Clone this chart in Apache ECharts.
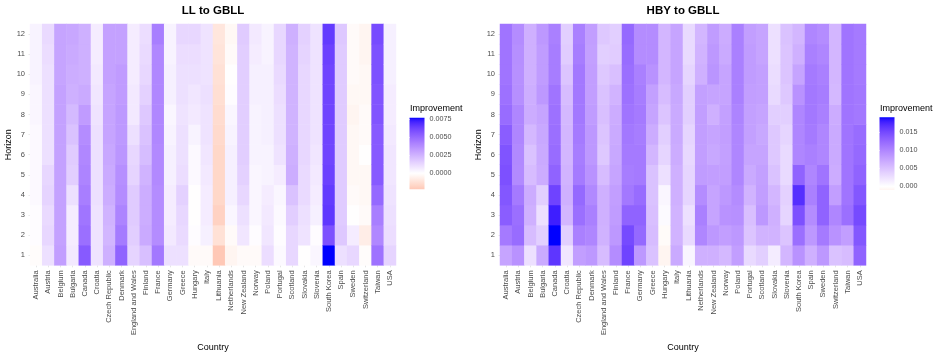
<!DOCTYPE html>
<html>
<head>
<meta charset="utf-8">
<script src="https://cdn.jsdelivr.net/npm/echarts@6/dist/echarts.min.js"></script>
<style>
html, body { margin: 0; background: #fff; }
#main { width: 940px; height: 357px; }
</style>
</head>
<body>
<div id="main"></div>
<script>
var countries = ['Australia', 'Austria', 'Belgium', 'Bulgaria', 'Canada', 'Croatia', 'Czech Republic', 'Denmark',
    'England and Wales', 'Finland', 'France', 'Germany', 'Greece', 'Hungary', 'Italy', 'Lithuania', 'Netherlands',
    'New Zealand', 'Norway', 'Poland', 'Portugal', 'Scotland', 'Slovakia', 'Slovenia', 'South Korea', 'Spain',
    'Sweden', 'Switzerland', 'Taiwan', 'USA'];
var horizons = ['1', '2', '3', '4', '5', '6', '7', '8', '9', '10', '11', '12'];

// one row per country, horizon 1 .. 12
var llValues = [
    [-0.0001, 0.0001, 0.0001, 0.0002, 0.0002, 0.0002, 0.0002, 0.0003, 0.0003, 0.0004, 0.0004, 0.0004],
    [0.0010, 0.0013, 0.0012, 0.0014, 0.0013, 0.0010, 0.0010, 0.0010, 0.0010, 0.0010, 0.0011, 0.0012],
    [0.0032, 0.0031, 0.0031, 0.0031, 0.0031, 0.0031, 0.0031, 0.0031, 0.0031, 0.0030, 0.0030, 0.0030],
    [0.0007, 0.0006, 0.0006, 0.0010, 0.0016, 0.0017, 0.0020, 0.0023, 0.0026, 0.0027, 0.0028, 0.0029],
    [0.0055, 0.0048, 0.0046, 0.0043, 0.0041, 0.0040, 0.0038, 0.0033, 0.0028, 0.0026, 0.0026, 0.0026],
    [0.0009, 0.0009, 0.0009, 0.0010, 0.0010, 0.0010, 0.0010, 0.0009, 0.0008, 0.0007, 0.0006, 0.0006],
    [0.0026, 0.0024, 0.0025, 0.0027, 0.0028, 0.0029, 0.0030, 0.0030, 0.0030, 0.0031, 0.0031, 0.0031],
    [0.0052, 0.0044, 0.0041, 0.0038, 0.0037, 0.0035, 0.0034, 0.0034, 0.0033, 0.0033, 0.0031, 0.0031],
    [0.0014, 0.0016, 0.0017, 0.0017, 0.0014, 0.0013, 0.0010, 0.0007, 0.0007, 0.0006, 0.0006, 0.0006],
    [0.0021, 0.0028, 0.0027, 0.0027, 0.0025, 0.0022, 0.0020, 0.0018, 0.0015, 0.0013, 0.0012, 0.0011],
    [0.0045, 0.0038, 0.0038, 0.0038, 0.0039, 0.0039, 0.0040, 0.0040, 0.0040, 0.0040, 0.0040, 0.0043],
    [0.0010, 0.0007, 0.0006, 0.0006, 0.0005, 0.0005, 0.0004, 0.0003, 0.0005, 0.0005, 0.0004, 0.0004],
    [0.0010, 0.0012, 0.0013, 0.0015, 0.0011, 0.0010, 0.0010, 0.0009, 0.0010, 0.0010, 0.0011, 0.0013],
    [-0.0002, 0.0001, 0.0000, 0.0000, 0.0002, 0.0002, 0.0004, 0.0007, 0.0008, 0.0010, 0.0011, 0.0013],
    [-0.0002, 0.0005, 0.0006, 0.0006, 0.0007, 0.0008, 0.0009, 0.0009, 0.0010, 0.0009, 0.0009, 0.0009],
    [-0.0022, -0.0012, -0.0018, -0.0016, -0.0016, -0.0016, -0.0015, -0.0014, -0.0013, -0.0012, -0.0011, -0.0010],
    [-0.0004, -0.0002, 0.0003, 0.0005, 0.0005, 0.0005, 0.0004, 0.0003, 0.0001, 0.0000, -0.0002, -0.0003],
    [-0.0002, 0.0008, 0.0010, 0.0013, 0.0015, 0.0016, 0.0016, 0.0016, 0.0016, 0.0016, 0.0016, 0.0017],
    [-0.0002, 0.0001, 0.0003, 0.0003, 0.0003, 0.0004, 0.0004, 0.0004, 0.0005, 0.0005, 0.0006, 0.0007],
    [0.0011, 0.0008, 0.0007, 0.0006, 0.0004, 0.0004, 0.0005, 0.0005, 0.0005, 0.0005, 0.0004, 0.0004],
    [0.0002, 0.0001, 0.0002, 0.0003, 0.0006, 0.0009, 0.0010, 0.0010, 0.0011, 0.0012, 0.0013, 0.0013],
    [0.0013, 0.0013, 0.0016, 0.0020, 0.0027, 0.0026, 0.0025, 0.0025, 0.0025, 0.0025, 0.0025, 0.0026],
    [0.0000, 0.0009, 0.0010, 0.0012, 0.0012, 0.0013, 0.0013, 0.0013, 0.0013, 0.0013, 0.0014, 0.0015],
    [0.0003, 0.0001, 0.0005, 0.0006, 0.0007, 0.0008, 0.0009, 0.0009, 0.0009, 0.0009, 0.0009, 0.0009],
    [0.0077, 0.0058, 0.0066, 0.0065, 0.0063, 0.0062, 0.0062, 0.0062, 0.0062, 0.0062, 0.0063, 0.0065],
    [0.0010, 0.0018, 0.0017, 0.0017, 0.0017, 0.0017, 0.0017, 0.0017, 0.0017, 0.0017, 0.0017, 0.0018],
    [0.0013, 0.0006, 0.0000, -0.0002, -0.0003, -0.0003, -0.0003, -0.0004, -0.0003, -0.0002, -0.0002, -0.0002],
    [-0.0001, -0.0007, -0.0002, -0.0003, -0.0003, 0.0000, -0.0002, -0.0002, -0.0003, -0.0003, -0.0004, -0.0004],
    [0.0047, 0.0040, 0.0043, 0.0050, 0.0055, 0.0055, 0.0055, 0.0057, 0.0057, 0.0058, 0.0058, 0.0060],
    [0.0014, 0.0011, 0.0010, 0.0009, 0.0008, 0.0008, 0.0007, 0.0006, 0.0006, 0.0005, 0.0005, 0.0005]
];

var hbyValues = [
    [0.0075, 0.0110, 0.0135, 0.0140, 0.0145, 0.0142, 0.0135, 0.0122, 0.0118, 0.0115, 0.0115, 0.0115],
    [0.0090, 0.0122, 0.0120, 0.0110, 0.0097, 0.0098, 0.0100, 0.0100, 0.0093, 0.0092, 0.0093, 0.0095],
    [0.0025, 0.0055, 0.0065, 0.0068, 0.0055, 0.0050, 0.0058, 0.0068, 0.0067, 0.0065, 0.0065, 0.0065],
    [0.0070, 0.0040, 0.0025, 0.0040, 0.0068, 0.0070, 0.0072, 0.0075, 0.0085, 0.0082, 0.0082, 0.0085],
    [0.0165, 0.0192, 0.0180, 0.0155, 0.0130, 0.0122, 0.0120, 0.0118, 0.0115, 0.0108, 0.0108, 0.0105],
    [0.0020, 0.0040, 0.0060, 0.0065, 0.0062, 0.0060, 0.0060, 0.0058, 0.0055, 0.0048, 0.0042, 0.0040],
    [0.0080, 0.0105, 0.0120, 0.0125, 0.0110, 0.0108, 0.0110, 0.0112, 0.0112, 0.0112, 0.0108, 0.0105],
    [0.0085, 0.0100, 0.0105, 0.0098, 0.0090, 0.0085, 0.0085, 0.0082, 0.0080, 0.0080, 0.0078, 0.0080],
    [0.0055, 0.0063, 0.0065, 0.0065, 0.0055, 0.0045, 0.0048, 0.0052, 0.0050, 0.0045, 0.0040, 0.0045],
    [0.0095, 0.0085, 0.0082, 0.0080, 0.0075, 0.0072, 0.0070, 0.0068, 0.0062, 0.0052, 0.0042, 0.0040],
    [0.0155, 0.0150, 0.0130, 0.0112, 0.0108, 0.0110, 0.0112, 0.0115, 0.0118, 0.0120, 0.0122, 0.0125],
    [0.0085, 0.0125, 0.0130, 0.0122, 0.0110, 0.0110, 0.0108, 0.0110, 0.0108, 0.0105, 0.0095, 0.0095],
    [0.0050, 0.0055, 0.0052, 0.0050, 0.0050, 0.0060, 0.0068, 0.0075, 0.0078, 0.0090, 0.0095, 0.0095],
    [-0.0010, -0.0004, 0.0004, 0.0007, 0.0025, 0.0035, 0.0040, 0.0048, 0.0055, 0.0060, 0.0060, 0.0060],
    [0.0070, 0.0062, 0.0062, 0.0065, 0.0065, 0.0068, 0.0070, 0.0070, 0.0072, 0.0075, 0.0075, 0.0075],
    [0.0008, 0.0030, 0.0025, 0.0035, 0.0035, 0.0032, 0.0035, 0.0040, 0.0040, 0.0035, 0.0030, 0.0030],
    [0.0065, 0.0100, 0.0105, 0.0095, 0.0082, 0.0080, 0.0080, 0.0080, 0.0078, 0.0065, 0.0062, 0.0060],
    [0.0065, 0.0085, 0.0075, 0.0075, 0.0080, 0.0072, 0.0075, 0.0065, 0.0075, 0.0088, 0.0085, 0.0082],
    [0.0058, 0.0080, 0.0090, 0.0085, 0.0080, 0.0078, 0.0080, 0.0078, 0.0075, 0.0075, 0.0070, 0.0068],
    [0.0080, 0.0085, 0.0092, 0.0095, 0.0100, 0.0100, 0.0100, 0.0102, 0.0105, 0.0105, 0.0105, 0.0105],
    [0.0030, 0.0048, 0.0052, 0.0062, 0.0070, 0.0075, 0.0078, 0.0078, 0.0080, 0.0082, 0.0082, 0.0080],
    [0.0040, 0.0062, 0.0085, 0.0080, 0.0078, 0.0075, 0.0072, 0.0075, 0.0078, 0.0078, 0.0075, 0.0075],
    [0.0015, 0.0062, 0.0065, 0.0060, 0.0050, 0.0045, 0.0045, 0.0040, 0.0030, 0.0028, 0.0025, 0.0025],
    [0.0060, 0.0048, 0.0035, 0.0038, 0.0030, 0.0030, 0.0035, 0.0040, 0.0045, 0.0048, 0.0048, 0.0050],
    [0.0090, 0.0120, 0.0145, 0.0170, 0.0130, 0.0100, 0.0100, 0.0100, 0.0090, 0.0075, 0.0065, 0.0060],
    [0.0065, 0.0085, 0.0095, 0.0105, 0.0100, 0.0105, 0.0110, 0.0112, 0.0112, 0.0110, 0.0105, 0.0100],
    [0.0085, 0.0110, 0.0130, 0.0130, 0.0115, 0.0100, 0.0100, 0.0105, 0.0108, 0.0105, 0.0100, 0.0095],
    [0.0050, 0.0090, 0.0100, 0.0080, 0.0068, 0.0070, 0.0070, 0.0068, 0.0058, 0.0060, 0.0060, 0.0060],
    [0.0055, 0.0080, 0.0120, 0.0115, 0.0115, 0.0115, 0.0115, 0.0115, 0.0115, 0.0115, 0.0115, 0.0115],
    [0.0130, 0.0140, 0.0150, 0.0140, 0.0130, 0.0125, 0.0122, 0.0112, 0.0112, 0.0110, 0.0110, 0.0110]
];

var llTicks = [0, 0.0025, 0.005, 0.0075];
var hbyTicks = [0, 0.005, 0.01, 0.015];

var FONT = '"Liberation Sans", Arial, sans-serif';

// white -> blue / white -> red, blended in Lab like ggplot's gradient2
function toLin(c) { c /= 255; return c <= 0.04045 ? c / 12.92 : Math.pow((c + 0.055) / 1.055, 2.4); }
function toSrgb(c) {
    c = c <= 0.0031308 ? 12.92 * c : 1.055 * Math.pow(c, 1 / 2.4) - 0.055;
    return Math.round(Math.max(0, Math.min(1, c)) * 255);
}
function rgb2lab(r, g, b) {
    r = toLin(r); g = toLin(g); b = toLin(b);
    var x = (0.4124 * r + 0.3576 * g + 0.1805 * b) / 0.95047;
    var y = 0.2126 * r + 0.7152 * g + 0.0722 * b;
    var z = (0.0193 * r + 0.1192 * g + 0.9505 * b) / 1.08883;
    function f(t) { return t > 0.008856 ? Math.cbrt(t) : 7.787 * t + 16 / 116; }
    var fx = f(x), fy = f(y), fz = f(z);
    return [116 * fy - 16, 500 * (fx - fy), 200 * (fy - fz)];
}
function lab2rgb(L, a, b) {
    var fy = (L + 16) / 116, fx = fy + a / 500, fz = fy - b / 200;
    function fi(t) { return t * t * t > 0.008856 ? t * t * t : (t - 16 / 116) / 7.787; }
    var x = fi(fx) * 0.95047, y = fi(fy), z = fi(fz) * 1.08883;
    var r = 3.2406 * x - 1.5372 * y - 0.4986 * z;
    var g = -0.9689 * x + 1.8758 * y + 0.0415 * z;
    var bb = 0.0557 * x - 0.2040 * y + 1.0570 * z;
    return 'rgb(' + toSrgb(r) + ',' + toSrgb(g) + ',' + toSrgb(bb) + ')';
}
var WHITE = rgb2lab(255, 255, 255), BLUE = rgb2lab(0, 0, 255), RED = rgb2lab(255, 0, 0);
function fillColor(v, limit) {
    var t = Math.min(1, Math.abs(v) / limit);
    var end = v < 0 ? RED : BLUE;
    return lab2rgb(WHITE[0] + (end[0] - WHITE[0]) * t,
                   WHITE[1] + (end[1] - WHITE[1]) * t,
                   WHITE[2] + (end[2] - WHITE[2]) * t);
}

function range(values) {
    var lo = Infinity, hi = -Infinity;
    values.forEach(function (row) { row.forEach(function (v) { lo = Math.min(lo, v); hi = Math.max(hi, v); }); });
    return [lo, hi];
}
function cells(values) {
    var out = [];
    values.forEach(function (row, c) { row.forEach(function (v, h) { out.push([c, h, v]); }); });
    return out;
}
function stops(lo, hi, limit, n, topFirst) {
    var list = [];
    for (var i = 0; i <= n; i++) {
        var v = topFirst ? hi - (hi - lo) * i / n : lo + (hi - lo) * i / n;
        list.push(topFirst ? { offset: i / n, color: fillColor(v, limit) } : fillColor(v, limit));
    }
    return list;
}

var llRange = range(llValues), hbyRange = range(hbyValues);
var llLimit = Math.max(Math.abs(llRange[0]), Math.abs(llRange[1]));
var hbyLimit = Math.max(Math.abs(hbyRange[0]), Math.abs(hbyRange[1]));

function barRender(r, limit) {
    return function (params, api) {
        var a = api.coord([0, r[1]]), b = api.coord([1, r[0]]);
        return {
            type: 'rect',
            shape: { x: a[0], y: a[1], width: b[0] - a[0], height: b[1] - a[1] },
            style: { fill: new echarts.graphic.LinearGradient(0, 0, 0, 1, stops(r[0], r[1], limit, 40, true)) }
        };
    };
}

function mainX(i) {
    return {
        type: 'category', gridIndex: i, data: countries,
        axisLine: { show: false }, splitLine: { show: false },
        axisTick: { show: true, alignWithLabel: true, length: 2, lineStyle: { color: '#e6e6e6' } },
        axisLabel: { interval: 0, rotate: 90, fontSize: 7.5, color: '#4d4d4d', margin: 5, fontFamily: FONT },
        name: 'Country', nameLocation: 'middle', nameGap: 72,
        nameTextStyle: { fontSize: 9, color: '#000', fontFamily: FONT }
    };
}
function mainY(i) {
    return {
        type: 'category', gridIndex: i, data: horizons,
        axisLine: { show: false }, splitLine: { show: false },
        axisTick: { show: true, alignWithLabel: true, length: 1.5, lineStyle: { color: '#e6e6e6' } },
        axisLabel: { fontSize: 7.5, color: '#4d4d4d', margin: 5, fontFamily: FONT },
        name: 'Horizon', nameLocation: 'middle', nameGap: 15,
        nameTextStyle: { fontSize: 9, color: '#000', fontFamily: FONT }
    };
}
function legendX(i) {
    return { type: 'value', gridIndex: i, min: 0, max: 1, show: false };
}
function legendY(i, r, ticks, dec) {
    return {
        type: 'value', gridIndex: i, min: r[0], max: r[1], position: 'right', z: 5,
        axisLine: { show: false }, splitLine: { show: false },
        axisTick: { show: true, inside: true, length: 3, customValues: ticks, lineStyle: { color: '#fff', width: 1 } },
        axisLabel: {
            customValues: ticks, fontSize: 7.2, color: '#4d4d4d', margin: 5, fontFamily: FONT,
            formatter: function (v) { return v.toFixed(dec); }
        }
    };
}

var chart = echarts.init(document.getElementById('main'));
chart.setOption({
    backgroundColor: '#fff',
    animation: false,
    title: [
        { text: 'LL to GBLL', left: 213, top: 5, padding: 0, textAlign: 'center',
          textStyle: { fontSize: 11.5, fontWeight: 'bold', color: '#000', fontFamily: FONT } },
        { text: 'HBY to GBLL', left: 683, top: 5, padding: 0, textAlign: 'center',
          textStyle: { fontSize: 11.5, fontWeight: 'bold', color: '#000', fontFamily: FONT } },
        { text: 'Improvement', left: 410, top: 104, padding: 0,
          textStyle: { fontSize: 9, fontWeight: 'normal', color: '#000', fontFamily: FONT } },
        { text: 'Improvement', left: 880, top: 104, padding: 0,
          textStyle: { fontSize: 9, fontWeight: 'normal', color: '#000', fontFamily: FONT } }
    ],
    grid: [
        { left: 30, top: 24, width: 366, height: 247 },
        { left: 500, top: 24, width: 366, height: 247 },
        { left: 409.5, top: 117.7, width: 15, height: 71.6 },
        { left: 879.5, top: 117.3, width: 15, height: 72.7 }
    ],
    xAxis: [mainX(0), mainX(1), legendX(2), legendX(3)],
    yAxis: [mainY(0), mainY(1), legendY(2, llRange, llTicks, 4), legendY(3, hbyRange, hbyTicks, 3)],
    visualMap: [
        { type: 'continuous', show: false, seriesIndex: 0, dimension: 2, min: llRange[0], max: llRange[1],
          inRange: { color: stops(llRange[0], llRange[1], llLimit, 40, false) } },
        { type: 'continuous', show: false, seriesIndex: 1, dimension: 2, min: hbyRange[0], max: hbyRange[1],
          inRange: { color: stops(hbyRange[0], hbyRange[1], hbyLimit, 40, false) } }
    ],
    series: [
        { type: 'heatmap', xAxisIndex: 0, yAxisIndex: 0, data: cells(llValues), emphasis: { disabled: true } },
        { type: 'heatmap', xAxisIndex: 1, yAxisIndex: 1, data: cells(hbyValues), emphasis: { disabled: true } },
        { type: 'custom', xAxisIndex: 2, yAxisIndex: 2, z: 1, data: [[0, 0]], renderItem: barRender(llRange, llLimit) },
        { type: 'custom', xAxisIndex: 3, yAxisIndex: 3, z: 1, data: [[0, 0]], renderItem: barRender(hbyRange, hbyLimit) }
    ]
});
</script>
</body>
</html>
